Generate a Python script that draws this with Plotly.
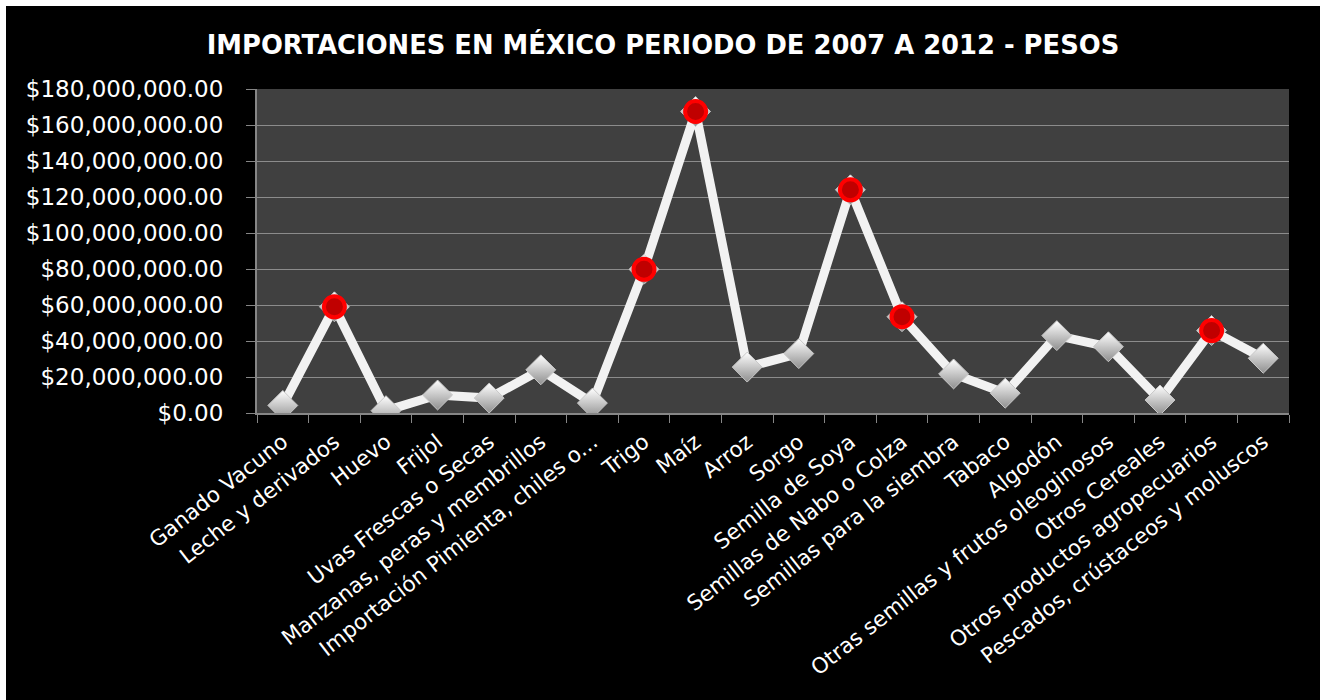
import plotly.graph_objects as go

categories = [
    "Ganado Vacuno", "Leche y derivados", "Huevo", "Frijol", "Uvas Frescas o Secas",
    "Manzanas, peras y membrillos", "Importación Pimienta, chiles o...", "Trigo", "Maíz",
    "Arroz", "Sorgo", "Semilla de Soya", "Semillas de Nabo o Colza",
    "Semillas para la siembra", "Tabaco", "Algodón", "Otras semillas y frutos oleoginosos",
    "Otros Cereales", "Otros productos agropecuarios", "Pescados, crústaceos y moluscos",
]
values = [
    4.2e6, 59.0e6, 1.3e6, 10.0e6, 8.3e6, 24.0e6, 5.5e6, 79.8e6, 167.5e6,
    25.5e6, 33.0e6, 124.0e6, 53.5e6, 21.7e6, 11.0e6, 43.0e6, 36.8e6,
    7.2e6, 45.8e6, 30.4e6,
]
highlighted = [
    False, True, False, False, False, False, False, True, True,
    False, False, True, True, False, False, False, False,
    False, True, False,
]
y_ticks = [0, 20e6, 40e6, 60e6, 80e6, 100e6, 120e6, 140e6, 160e6, 180e6]

red_values = [v if h else None for v, h in zip(values, highlighted)]

FONT = "DejaVu Sans"
W, H = 1314, 694

fig = go.Figure()
fig.add_trace(go.Scatter(
    x=categories, y=values, mode="lines+markers",
    line=dict(color="#f2f2f2", width=9),
    marker=dict(symbol="diamond", size=23, color="#ffffff",
                gradient=dict(type="vertical", color="#8f8f8f"),
                line=dict(color="#c8c8c8", width=1)),
    showlegend=False, hoverinfo="x+y",
))
fig.add_trace(go.Scatter(
    x=categories, y=red_values, mode="markers",
    marker=dict(symbol="circle", size=21, color="#c00000",
                line=dict(color="#ff0000", width=4)),
    showlegend=False, hoverinfo="skip",
))

fig.update_layout(
    width=W, height=H,
    paper_bgcolor="#000000", plot_bgcolor="#404040",
    margin=dict(l=251, r=31, t=83, b=287),
    title=dict(text="<b>IMPORTACIONES EN MÉXICO PERIODO DE 2007 A 2012 - PESOS</b>",
               x=0.5, xanchor="center", y=1 - 39 / H, yanchor="middle",
               font=dict(family=FONT, size=25.8, color="#ffffff")),
    font=dict(family=FONT, color="#ffffff"),
    xaxis=dict(
        type="category", range=[-0.5, len(categories) - 0.5],
        tickangle=-38, tickson="boundaries",
        ticks="outside", ticklen=8, tickcolor="#868686", tickwidth=1,
        ticklabelstandoff=6,
        showline=True, linecolor="#868686", linewidth=2,
        showgrid=False, tickfont=dict(family=FONT, size=21.5, color="#ffffff"),
    ),
    yaxis=dict(
        range=[0, 180e6], tickvals=y_ticks, tickformat="$,.2f",
        ticks="outside", ticklen=9, tickcolor="#868686",
        ticklabelstandoff=18,
        showline=True, linecolor="#868686", linewidth=2,
        showgrid=True, gridcolor="#8c8c8c", gridwidth=1, zeroline=False,
        tickfont=dict(family=FONT, size=23, color="#ffffff"),
    ),
)

fig.write_html(
    "out.html",
    post_script="document.body.style.margin='0';"
                "document.body.style.padding='6px 0 0 6px';"
                "document.body.style.background='#ffffff';"
                "document.body.style.overflow='hidden';",
)
